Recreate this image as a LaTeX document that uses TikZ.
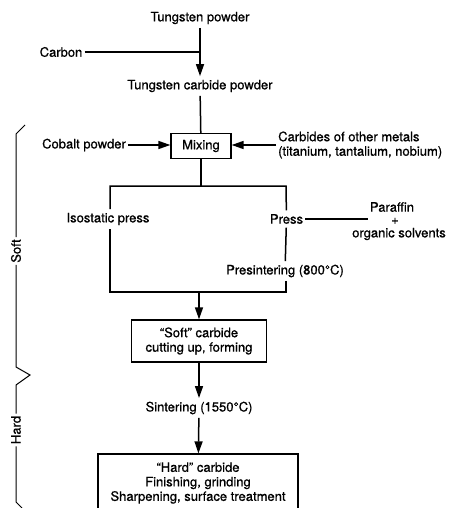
\documentclass[tikz,border=0pt]{standalone}
\usepackage{fontspec}
\setmainfont{TeX Gyre Heros}[BoldFont=TeX Gyre Heros, BoldFeatures={FakeBold=0.8}]
\usetikzlibrary{arrows.meta}

\begin{document}
\begin{tikzpicture}[x=1pt, y=-1pt, >={Triangle[length=12pt, width=8pt]},
        every node/.style={inner xsep=2pt, inner ysep=3.5pt, font=\fontsize{13}{14.5}\selectfont\bfseries},
        flow/.style={line width=1.5pt},
        stagebox/.style={draw, line width=1.3pt, align=center},
        bracket/.style={line width=1pt}]
    \useasboundingbox (0,0) rectangle (460,508);
    \clip (0,0) rectangle (460,508);

    \node (tp) at (200,18) {Tungsten powder};
    \node (carbon) at (61,52) {Carbon};
    \node (tcp) at (200,86) {Tungsten carbide powder};
    \node[stagebox, minimum width=60pt, minimum height=25pt] (mix) at (201,146) {Mixing};
    \node (cobalt) at (84,145) {Cobalt powder};
    \node[align=left, anchor=west] (carbides) at (276,145) {Carbides of other metals\\(titanium, tantalium, nobium)};
    \node (iso) at (108,219) {Isostatic press};
    \node (press) at (286.5,219) {Press};
    \node (paraffin) at (392,207) {Paraffin};
    \node (plus) at (395,221) {+};
    \node (solvents) at (399,234) {organic solvents};
    \node (presint) at (285,271) {Presintering (800°C)};
    \node[stagebox, minimum width=135pt, minimum height=42pt] (soft) at (199,341) {“Soft” carbide\\cutting up, forming};
    \node (sinter) at (199,408) {Sintering (1550°C)};
    \node[stagebox, minimum width=200pt, minimum height=58pt] (hard) at (198,483) {“Hard” carbide\\Finishing, grinding\\Sharpening, surface treatment};
    \node[rotate=90] (softlbl) at (16,251) {Soft};
    \node[rotate=90] (hardlbl) at (16,430) {Hard};

    \coordinate (splitL) at (110,186);
    \coordinate (splitR) at (286,186);
    \coordinate (joinL) at (110,292);
    \coordinate (joinR) at (286,292);

    \draw[flow, ->] (tp) -- (tcp);
    \draw[flow] (carbon) -- (carbon -| tp);
    \draw[flow] (tcp) -- (mix);
    \draw[flow, ->] (cobalt) -- (cobalt -| mix.west);
    \draw[flow, ->] (carbides.west) -- (carbides.west -| mix.east);

    \draw[flow] (mix) -- (mix |- splitL);
    \draw[flow] (splitL |- iso.north) -- (splitL) -- (splitR) -- (press);
    \draw[flow] (press) -- (presint);
    \draw[flow] (presint.south -| joinR) -- (joinR) -- (joinL) -- (splitL |- iso.south);
    \draw[flow] (press) -- (paraffin.west |- press.east);
    \draw[flow, ->] (soft |- joinL) -- (soft);
    \draw[flow, ->] (soft) -- (sinter);
    \draw[flow, ->] (sinter) -- (hard);

    \draw[bracket] (25,125) -- (16,134) -- (softlbl.east);
    \draw[bracket] (softlbl.west) -- (16,367) -- (30,375) -- (16,385) -- (hardlbl.east);
    \draw[bracket] (hardlbl.west) -- (16,502) -- (22,508);
\end{tikzpicture}
\end{document}
